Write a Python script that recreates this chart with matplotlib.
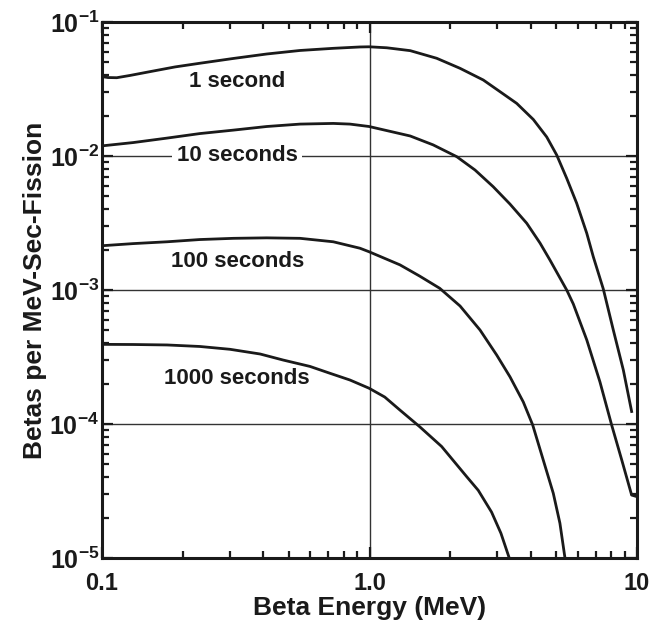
import numpy as np
import matplotlib
matplotlib.use('Agg')
import matplotlib.pyplot as plt
from matplotlib.ticker import LogLocator, FixedLocator, FixedFormatter, NullFormatter

# ─── Style ───────────────────────────────────────────────────────────────────
FG = '#1a1a1a'
plt.rcParams.update({
    'font.family': ['Liberation Sans', 'DejaVu Sans'],
    'font.weight': 'bold',
    'mathtext.fontset': 'custom',
    'mathtext.rm': 'Liberation Sans:bold',
    'mathtext.bf': 'Liberation Sans:bold',
    'mathtext.default': 'rm',
    'text.color': FG, 'axes.labelcolor': FG,
    'xtick.color': FG, 'ytick.color': FG,
})

# ─── Data ────────────────────────────────────────────────────────────────────
E_1s = [0.1, 0.1053, 0.1135, 0.1272, 0.1511, 0.1875, 0.232, 0.309, 0.413, 0.55,
        0.732, 0.921, 0.996, 1.16, 1.42, 1.783, 2.18, 2.663, 3.075, 3.55, 4.096,
        4.598, 5.01, 5.46, 5.95, 6.49, 6.865, 7.48, 8.155, 8.89, 9.55]
B_1s = [0.0391, 0.0385, 0.03838, 0.0399, 0.0426, 0.0462, 0.0492, 0.0534, 0.0577,
        0.0613, 0.0636, 0.0651, 0.0653, 0.0642, 0.0611, 0.0536, 0.0451, 0.0369,
        0.0302, 0.0247, 0.01873, 0.01386, 0.01017, 0.00682, 0.00444, 0.00265,
        0.00177, 0.00102, 5.03e-4, 2.53e-4, 1.24e-4]

E_10s = [0.1, 0.131, 0.175, 0.232, 0.31, 0.413, 0.55, 0.732, 0.845, 0.996, 1.42,
         1.73, 2.12, 2.48, 2.9, 3.35, 3.87, 4.34, 4.73, 5.46, 5.78, 6.49, 7.27,
         8.04, 8.77, 9.55, 10.0]
B_10s = [0.0119, 0.0126, 0.0136, 0.0147, 0.0156, 0.0166, 0.0173, 0.0175, 0.0173,
         0.0166, 0.0141, 0.0121, 0.00988, 0.00786, 0.0059, 0.00438, 0.00315,
         0.00224, 0.00167, 0.00100, 7.86e-4, 4.24e-4, 2.06e-4, 9.83e-5, 5.39e-5,
         2.95e-5, 2.87e-5]

E_100s = [0.1, 0.131, 0.175, 0.232, 0.31, 0.413, 0.55, 0.732, 0.921, 0.996, 1.3,
          1.54, 1.83, 2.18, 2.589, 2.989, 3.351, 3.758, 4.075, 4.463, 4.865, 5.15,
          5.38]
B_100s = [0.00214, 0.00222, 0.00229, 0.00238, 0.00243, 0.00245, 0.00243, 0.00229,
          0.00205, 0.00193, 0.00154, 0.00127, 0.00103, 7.6e-4, 5.03e-4, 3.27e-4,
          2.25e-4, 1.46e-4, 9.83e-5, 5.38e-5, 3.04e-5, 1.82e-5, 1.0e-5]

E_1000s = [0.1, 0.131, 0.175, 0.232, 0.301, 0.39, 0.476, 0.599, 0.712, 0.845,
           0.996, 1.14, 1.3, 1.54, 1.86, 2.31, 2.55, 2.86, 3.10, 3.33]
B_1000s = [3.93e-4, 3.92e-4, 3.89e-4, 3.79e-4, 3.61e-4, 3.33e-4, 3.0e-4, 2.69e-4,
           2.39e-4, 2.13e-4, 1.85e-4, 1.59e-4, 1.27e-4, 9.55e-5, 6.8e-5, 4.04e-5,
           3.2e-5, 2.2e-5, 1.53e-5, 1.0e-5]

CURVES = [(E_1s, B_1s), (E_10s, B_10s), (E_100s, B_100s), (E_1000s, B_1000s)]

LABELS = ['1 second', '10 seconds', '100 seconds', '1000 seconds']
LABEL_X = [0.32, 0.32, 0.32, 0.32]
LABEL_Y = [0.0357, 0.0100, 0.00164, 2.2e-4]
LABEL_BOX = [False, True, False, False]   # only "10 seconds" sits on a grid line

Y_TICKS = [1e-5, 1e-4, 1e-3, 1e-2, 1e-1]
Y_TICKLABELS = [r'$10^{-5}$', r'$10^{-4}$', r'$10^{-3}$', r'$10^{-2}$', r'$10^{-1}$']
X_TICKS = [0.1, 1.0, 10.0]
X_TICKLABELS = ['0.1', '1.0', '10']

# ─── Figure ──────────────────────────────────────────────────────────────────
fig = plt.figure(figsize=(6.54, 6.21), dpi=100)
ax = fig.add_axes([0.156, 0.1014, 0.818, 0.8632])

for E, B in CURVES:
    ax.plot(E, B, color=FG, lw=2.0, solid_joinstyle='round', zorder=3)

ax.set_xscale('log')
ax.set_yscale('log')
ax.set_xlim(0.1, 10)
ax.set_ylim(1e-5, 1e-1)

ax.xaxis.set_major_locator(FixedLocator(X_TICKS))
ax.xaxis.set_major_formatter(FixedFormatter(X_TICKLABELS))
ax.xaxis.set_minor_locator(LogLocator(base=10, subs=np.arange(2, 10)))
ax.xaxis.set_minor_formatter(NullFormatter())
ax.yaxis.set_major_locator(FixedLocator(Y_TICKS))
ax.yaxis.set_major_formatter(FixedFormatter(Y_TICKLABELS))
ax.yaxis.set_minor_locator(LogLocator(base=10, subs=np.arange(2, 10)))
ax.yaxis.set_minor_formatter(NullFormatter())

ax.tick_params(which='both', direction='in', top=True, right=True, width=1.6)
ax.tick_params(which='major', length=8)
ax.tick_params(which='minor', length=5)
ax.tick_params(axis='x', which='major', labelsize=17, pad=10)
ax.tick_params(axis='y', which='major', labelsize=18, pad=2)

ax.grid(True, which='major', color='#333333', lw=1.0)
ax.set_axisbelow(True)
for sp in ax.spines.values():
    sp.set_linewidth(2.2)
    sp.set_color(FG)

for lbl, x, y, boxed in zip(LABELS, LABEL_X, LABEL_Y, LABEL_BOX):
    bbox = dict(facecolor='white', edgecolor='none', pad=3) if boxed else None
    ax.text(x, y, lbl, ha='center', va='center', fontsize=16, fontweight='bold',
            bbox=bbox, zorder=4)

ax.set_xlabel('Beta Energy (MeV)', fontsize=19, fontweight='bold', labelpad=1)
ax.set_ylabel('Betas per MeV-Sec-Fission', fontsize=19, fontweight='bold', labelpad=2)

fig.savefig('out.png', dpi=100)
